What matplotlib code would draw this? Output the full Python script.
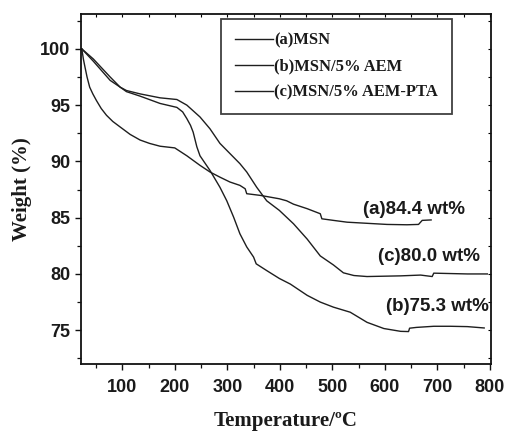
import matplotlib
matplotlib.use("Agg")
import matplotlib.pyplot as plt
from matplotlib.ticker import MultipleLocator

# ---- data ----
T_a = [23, 26, 29, 33, 38, 44, 51, 60, 70, 82, 96, 115, 134, 152, 172, 200, 223, 248, 267, 286,
       305, 324, 334, 337, 363, 399, 413, 426, 452, 477, 480, 502, 528, 566, 604, 642, 664, 671, 688]
W_a = [100, 99.1, 98.4, 97.5, 96.6, 96.0, 95.4, 94.7, 94.1, 93.55, 93.06, 92.4, 91.9, 91.6,
       91.35, 91.2, 90.5, 89.65, 89.06, 88.6, 88.17, 87.87, 87.57, 87.13, 86.98, 86.68, 86.5,
       86.2, 85.8, 85.35, 84.9, 84.76, 84.6, 84.5, 84.4, 84.37, 84.4, 84.76, 84.8]

T_b = [23, 45, 77, 96, 108, 134, 172, 204, 215, 223, 230, 235, 242, 248, 267, 286, 299, 312,
       324, 337, 350, 355, 375, 399, 420, 452, 477, 502, 534, 566, 598, 630, 645, 647, 660,
       693, 725, 757, 789]
W_b = [100, 99.1, 97.5, 96.6, 96.2, 95.8, 95.15, 94.8, 94.4, 93.8, 93.2, 92.6, 91.3, 90.5,
       89.2, 87.7, 86.5, 85.05, 83.57, 82.4, 81.5, 80.9, 80.3, 79.6, 79.1, 78.1, 77.5, 77.05,
       76.6, 75.7, 75.15, 74.9, 74.88, 75.18, 75.25, 75.35, 75.35, 75.32, 75.2]

T_c = [23, 45, 77, 96, 108, 134, 172, 204, 223, 248, 267, 286, 305, 324, 337, 356, 375, 399,
       426, 452, 477, 502, 521, 541, 566, 630, 668, 690, 693, 757, 795]
W_c = [100, 98.9, 97.2, 96.6, 96.3, 96.0, 95.65, 95.5, 95.0, 93.95, 92.9, 91.6, 90.7, 89.8,
       89.06, 87.7, 86.5, 85.65, 84.46, 83.1, 81.6, 80.8, 80.1, 79.86, 79.77, 79.83, 79.9,
       79.77, 80.07, 80.0, 80.0]

labels = ["(a)MSN", "(b)MSN/5% AEM", "(c)MSN/5% AEM-PTA"]
annots = ["(a)84.4 wt%", "(c)80.0 wt%", "(b)75.3 wt%"]
annot_T = [558, 586, 603]
annot_W = [85.75, 81.55, 77.1]

x_ticks = [100, 200, 300, 400, 500, 600, 700, 800]
y_ticks = [75, 80, 85, 90, 95, 100]

# ---- figure ----
fig = plt.figure(figsize=(5.05, 4.33), dpi=100)
ax = fig.add_axes([0.1604, 0.1594, 0.8119, 0.8083])

lc = "#1e1e1e"
for T, W, lab in zip([T_a, T_b, T_c], [W_a, W_b, W_c], labels):
    ax.plot(T, W, color=lc, lw=1.0, label=lab)

ax.set_xlim(21.5, 802)
ax.set_ylim(72, 103.1)
ax.set_xticks(x_ticks)
ax.set_yticks(y_ticks)
ax.xaxis.set_minor_locator(MultipleLocator(50))
ax.yaxis.set_minor_locator(MultipleLocator(2.5))

for s in ax.spines.values():
    s.set_linewidth(1.3)
    s.set_color("#111111")

ax.tick_params(which="major", direction="out", length=4.5, width=1.0, color="#111111",
               top=False, right=False)
ax.tick_params(which="minor", direction="out", length=3, width=0.9, color="#111111",
               top=False, right=False)

for lbl in ax.get_xticklabels() + ax.get_yticklabels():
    lbl.set_fontfamily("Liberation Sans")
    lbl.set_fontweight("bold")
    lbl.set_fontsize(13)
    lbl.set_color("#1a1a1a")
ax.tick_params(axis="x", pad=6)
ax.tick_params(axis="y", pad=3)

# inward ticks on top/right
secx = ax.secondary_xaxis("top")
secx.set_xticks(x_ticks)
secx.xaxis.set_minor_locator(MultipleLocator(50))
secx.tick_params(which="both", direction="in", length=2, width=0.8, labeltop=False)
secx.spines["top"].set_visible(False)
secy = ax.secondary_yaxis("right")
secy.set_yticks(y_ticks)
secy.yaxis.set_minor_locator(MultipleLocator(2.5))
secy.tick_params(which="both", direction="in", length=2, width=0.8, labelright=False)
secy.spines["right"].set_visible(False)

ax.set_xlabel("Temperature/ºC", family="Liberation Serif", weight="bold", size=15,
              color="#1a1a1a", labelpad=11)
ax.set_ylabel("Weight (%)", family="Liberation Serif", weight="bold", size=15,
              color="#1a1a1a", labelpad=6)

for txt, t, w in zip(annots, annot_T, annot_W):
    ax.text(t, w, txt, family="Liberation Sans", weight="bold", size=13.5,
            color="#1a1a1a", ha="left", va="center")

leg = ax.legend(loc="upper right", bbox_to_anchor=(0.905, 0.987), frameon=True,
                fancybox=False, edgecolor="#111111", handlelength=2.3, handletextpad=0.1,
                labelspacing=0.6, borderpad=0.85, borderaxespad=0.0,
                prop=dict(family="Liberation Serif", weight="bold", size=11.9))
leg.get_frame().set_linewidth(1.3)
for t in leg.get_texts():
    t.set_color("#1a1a1a")

fig.savefig("out.png", dpi=100)
